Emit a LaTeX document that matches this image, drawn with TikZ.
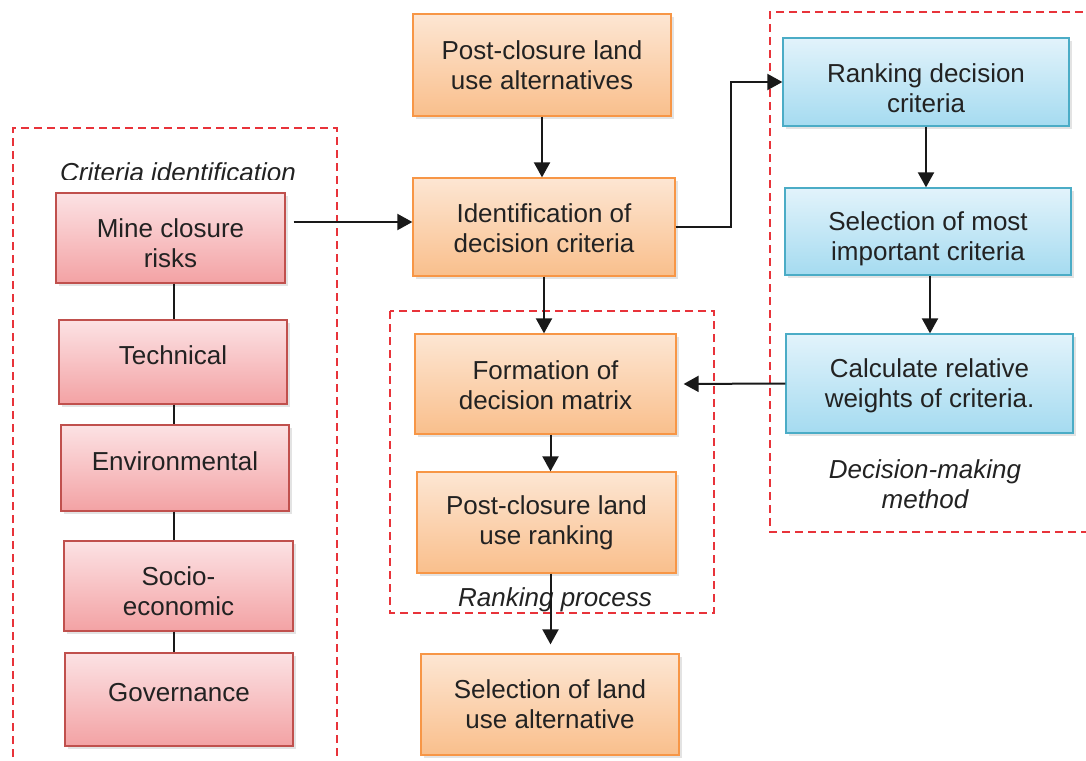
\documentclass[tikz,border=0pt]{standalone}
\usepackage{fontspec}
\setmainfont{Liberation Sans}
\usetikzlibrary{arrows.meta,shadows,calc}
\definecolor{ofill1}{HTML}{FDE6D3}
\definecolor{ofill2}{HTML}{F9BF8C}
\definecolor{oline}{HTML}{F79646}
\definecolor{bfill1}{HTML}{E2F3FB}
\definecolor{bfill2}{HTML}{A5DBF0}
\definecolor{bline}{HTML}{4BACC6}
\definecolor{rfill1}{HTML}{FCE2E4}
\definecolor{rfill2}{HTML}{F3A2A4}
\definecolor{rline}{HTML}{C0504D}
\definecolor{dashred}{HTML}{E8333A}
\definecolor{txt}{HTML}{222222}
\tikzset{
  basebox/.style={rectangle, inner sep=0pt, line width=1.3pt,
    drop shadow={shadow xshift=3pt, shadow yshift=-3pt, opacity=0.22}},
  obox/.style={basebox, draw=oline, top color=ofill1, bottom color=ofill2},
  bbox/.style={basebox, draw=bline, top color=bfill1, bottom color=bfill2},
  rbox/.style={basebox, draw=rline, top color=rfill1, bottom color=rfill2},
  boxtext/.style={align=center, text=txt, inner sep=0pt, font=\fontsize{26}{30}\selectfont},
  arr/.style={line width=2pt, draw=black!90, -{Triangle[length=15pt,width=16pt]}},
  link/.style={line width=2pt, draw=black!90},
  group/.style={draw=dashred, line width=1.4pt, dash pattern=on 8pt off 5pt},
  grouplabel/.style={font=\fontsize{26}{30}\selectfont\itshape, text=txt, align=center}
}
\begin{document}
\begin{tikzpicture}[x=1pt,y=-1pt]
\useasboundingbox (0,0) rectangle (1086,760);

% dashed group frames
\draw[group] (13,770) -- (13,128) -- (337,128) -- (337,770);
\draw[group] (390,311) rectangle (714,613);
\draw[group] (1096,12) -- (770,12) -- (770,532) -- (1096,532);

% central column
\node[obox, minimum width=258, minimum height=102] (pcla) at (542,65) {};
\node[boxtext] (pcla-t) at (542,65) {Post-closure land\\use alternatives};
\node[obox, minimum width=262, minimum height=98] (idc) at (544,227) {};
\node[boxtext] (idc-t) at (544,228) {Identification of\\decision criteria};
\node[obox, minimum width=261, minimum height=100] (fdm) at (545.5,384) {};
\node[boxtext] (fdm-t) at (545.5,385) {Formation of\\decision matrix};
\node[obox, minimum width=259, minimum height=101] (pclr) at (546.5,522.5) {};
\node[boxtext] (pclr-t) at (546.5,523) {Post-closure land\\use ranking};
\node[obox, minimum width=258, minimum height=101] (sla) at (550,704.5) {};
\node[boxtext] (sla-t) at (550,704.5) {Selection of land\\use alternative};

% decision-making column
\node[bbox, minimum width=286, minimum height=88] (rdc) at (926,82) {};
\node[boxtext] (rdc-t) at (926,88) {Ranking decision\\criteria};
\node[bbox, minimum width=286, minimum height=87] (smi) at (928,231.5) {};
\node[boxtext] (smi-t) at (928,239) {Selection of most\\important criteria};
\node[bbox, minimum width=287, minimum height=99] (crw) at (929.5,383.5) {};
\node[boxtext] (crw-t) at (929.5,385.5) {Calculate relative\\weights of criteria.};

% risk column
\node[rbox, minimum width=229, minimum height=90] (mcr) at (170.5,238) {};
\node[boxtext] (mcr-t) at (170.5,243) {Mine closure\\risks};
\node[rbox, minimum width=228, minimum height=84] (tech) at (173,362) {};
\node[boxtext] (tech-t) at (173,355) {Technical};
\node[rbox, minimum width=228, minimum height=86] (env) at (175,468) {};
\node[boxtext] (env-t) at (175,461) {Environmental};
\node[rbox, minimum width=229, minimum height=90] (soc) at (178.5,586) {};
\node[boxtext] (soc-t) at (178.5,591) {Socio-\\economic};
\node[rbox, minimum width=228, minimum height=93] (gov) at (179,699.5) {};
\node[boxtext] (gov-t) at (179,693) {Governance};

% group labels
\begin{scope}
  \clip (0,0) rectangle (1086,179);
  \node[grouplabel] (critlab) at (178,172) {Criteria identification};
\end{scope}
\node[grouplabel] (ranklab) at (555,600) {Ranking process};
\node[grouplabel] (declab) at (925,484) {Decision-making\\method};

% risk column spine
\coordinate (spine) at (174,0);
\draw[link] (mcr.south -| spine) -- (tech.north -| spine);
\draw[link] (tech.south -| spine) -- (env.north -| spine);
\draw[link] (env.south -| spine) -- (soc.north -| spine);
\draw[link] (soc.south -| spine) -- (gov.north -| spine);

% connectors
\coordinate (mcrout) at ($(mcr.east)+(8,-16)$);
\draw[arr] (mcrout) -- (mcrout -| idc.west);
\draw[arr] (pcla.south) -- (pcla.south |- idc.north);
\draw[arr] (idc.east) -- ++(55,0) |- (rdc.west);
\draw[arr] (rdc.south) -- (rdc.south |- smi.north);
\coordinate (smiout) at ($(smi.south)+(2,0)$);
\draw[arr] (smiout) -- (smiout |- crw.north);
\draw[arr, shorten >=7pt] (crw.west) -- (fdm.east);
\draw[arr] (idc.south) -- (idc.south |- fdm.north);
\coordinate (fdmout) at ($(fdm.south)+(5,0)$);
\draw[arr] (fdmout) -- (fdmout |- pclr.north);
\coordinate (pclrout) at ($(pclr.south)+(4,0)$);
\draw[arr, shorten >=9pt] (pclrout) -- (pclrout |- sla.north);
\end{tikzpicture}
\end{document}
